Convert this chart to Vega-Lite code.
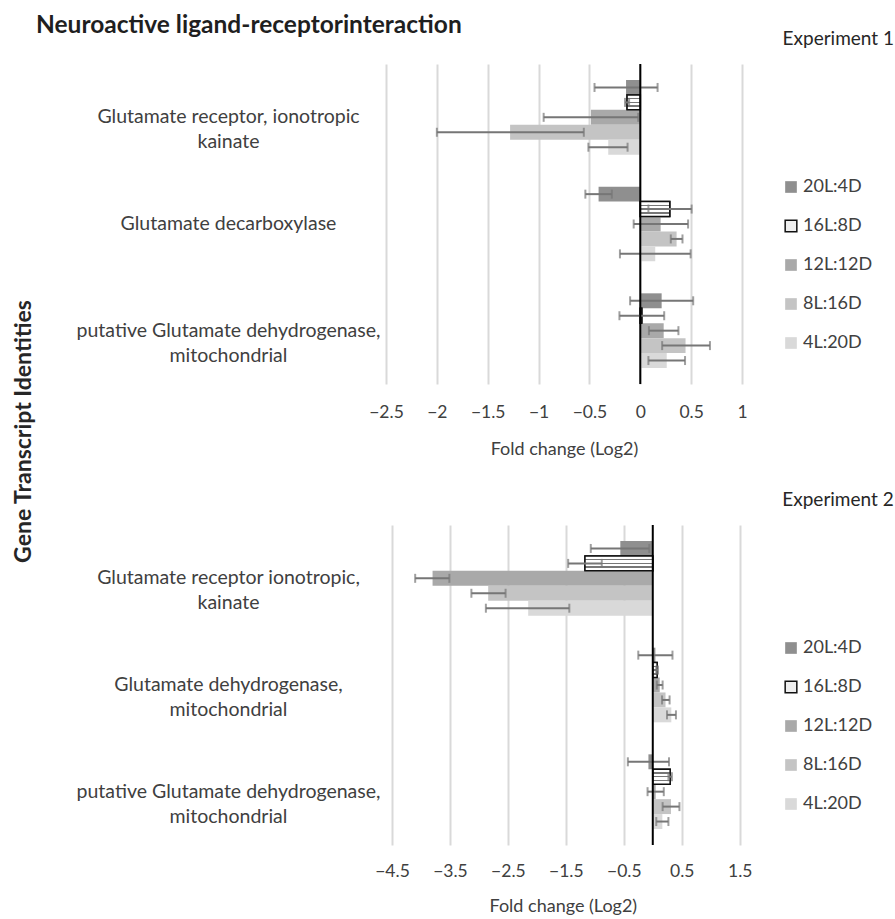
{
  "$schema": "https://vega.github.io/schema/vega-lite/v6.json",
  "background": "white",
  "padding": {"left": 11, "top": 12, "right": 0, "bottom": 0},
  "bounds": "flush",
  "spacing": 141,
  "config": {
    "font": "Lato",
    "view": {"stroke": null},
    "axis": {"labelColor": "#404040", "titleColor": "#404040"},
    "legend": {"padding": 0}
  },
  "title": {"text": "Neuroactive ligand-receptorinteraction", "anchor": "start", "fontSize": 24.5, "fontWeight": "bold", "color": "#1f1f1f", "dx": 24, "offset": -8},
  "resolve": {
    "scale": {"x": "independent", "y": "independent", "yOffset": "independent", "color": "independent", "stroke": "independent"},
    "legend": {"color": "independent", "stroke": "independent"}
  },
  "datasets": {
    "exp1": [
      {"gene": "Glutamate receptor, ionotropic|kainate", "series": "20L:4D", "value": -0.14, "lo": -0.45, "hi": 0.17},
      {"gene": "Glutamate receptor, ionotropic|kainate", "series": "16L:8D", "value": -0.13, "lo": -0.15, "hi": -0.11},
      {"gene": "Glutamate receptor, ionotropic|kainate", "series": "12L:12D", "value": -0.485, "lo": -0.95, "hi": -0.02},
      {"gene": "Glutamate receptor, ionotropic|kainate", "series": "8L:16D", "value": -1.28, "lo": -2.0, "hi": -0.555},
      {"gene": "Glutamate receptor, ionotropic|kainate", "series": "4L:20D", "value": -0.315, "lo": -0.51, "hi": -0.125},
      {"gene": "Glutamate decarboxylase", "series": "20L:4D", "value": -0.41, "lo": -0.54, "hi": -0.28},
      {"gene": "Glutamate decarboxylase", "series": "16L:8D", "value": 0.29, "lo": 0.08, "hi": 0.505},
      {"gene": "Glutamate decarboxylase", "series": "12L:12D", "value": 0.2, "lo": -0.065, "hi": 0.47},
      {"gene": "Glutamate decarboxylase", "series": "8L:16D", "value": 0.357, "lo": 0.3, "hi": 0.415},
      {"gene": "Glutamate decarboxylase", "series": "4L:20D", "value": 0.147, "lo": -0.2, "hi": 0.495},
      {"gene": "putative Glutamate dehydrogenase,|mitochondrial", "series": "20L:4D", "value": 0.21, "lo": -0.1, "hi": 0.52},
      {"gene": "putative Glutamate dehydrogenase,|mitochondrial", "series": "16L:8D", "value": 0.015, "lo": -0.205, "hi": 0.235},
      {"gene": "putative Glutamate dehydrogenase,|mitochondrial", "series": "12L:12D", "value": 0.23, "lo": 0.085, "hi": 0.375},
      {"gene": "putative Glutamate dehydrogenase,|mitochondrial", "series": "8L:16D", "value": 0.445, "lo": 0.215, "hi": 0.685},
      {"gene": "putative Glutamate dehydrogenase,|mitochondrial", "series": "4L:20D", "value": 0.26, "lo": 0.08, "hi": 0.44}
    ],
    "exp2": [
      {"gene": "Glutamate receptor ionotropic,|kainate", "series": "20L:4D", "value": -0.56, "lo": -1.07, "hi": -0.06},
      {"gene": "Glutamate receptor ionotropic,|kainate", "series": "16L:8D", "value": -1.17, "lo": -1.46, "hi": -0.88},
      {"gene": "Glutamate receptor ionotropic,|kainate", "series": "12L:12D", "value": -3.8, "lo": -4.1, "hi": -3.51},
      {"gene": "Glutamate receptor ionotropic,|kainate", "series": "8L:16D", "value": -2.84, "lo": -3.13, "hi": -2.54},
      {"gene": "Glutamate receptor ionotropic,|kainate", "series": "4L:20D", "value": -2.15, "lo": -2.88, "hi": -1.44},
      {"gene": "Glutamate dehydrogenase,|mitochondrial", "series": "20L:4D", "value": 0.045, "lo": -0.25, "hi": 0.34},
      {"gene": "Glutamate dehydrogenase,|mitochondrial", "series": "16L:8D", "value": 0.075, "lo": 0.06, "hi": 0.09},
      {"gene": "Glutamate dehydrogenase,|mitochondrial", "series": "12L:12D", "value": 0.12, "lo": 0.07, "hi": 0.17},
      {"gene": "Glutamate dehydrogenase,|mitochondrial", "series": "8L:16D", "value": 0.22, "lo": 0.16, "hi": 0.29},
      {"gene": "Glutamate dehydrogenase,|mitochondrial", "series": "4L:20D", "value": 0.32, "lo": 0.245, "hi": 0.4},
      {"gene": "putative Glutamate dehydrogenase,|mitochondrial", "series": "20L:4D", "value": -0.075, "lo": -0.43, "hi": 0.28},
      {"gene": "putative Glutamate dehydrogenase,|mitochondrial", "series": "16L:8D", "value": 0.3, "lo": 0.27, "hi": 0.33},
      {"gene": "putative Glutamate dehydrogenase,|mitochondrial", "series": "12L:12D", "value": 0.05, "lo": -0.09, "hi": 0.19},
      {"gene": "putative Glutamate dehydrogenase,|mitochondrial", "series": "8L:16D", "value": 0.315, "lo": 0.17, "hi": 0.46},
      {"gene": "putative Glutamate dehydrogenase,|mitochondrial", "series": "4L:20D", "value": 0.165, "lo": 0.06, "hi": 0.27}
    ],
    "zero": [{"zero": 0}]
  },
  "vconcat": [
    {
      "width": 356,
      "height": 320,
      "title": {"text": "Experiment 1", "anchor": "end", "frame": "group", "fontSize": 19, "fontWeight": "normal", "color": "#262626", "dx": 152, "offset": 14},
      "data": {"name": "exp1"},
      "layer": [
        {
          "mark": {"type": "bar", "strokeWidth": 1.5},
          "encoding": {
            "y": {"field": "gene", "type": "nominal", "sort": ["Glutamate receptor, ionotropic|kainate", "Glutamate decarboxylase", "putative Glutamate dehydrogenase,|mitochondrial"],
              "scale": {"paddingInner": 0.3, "paddingOuter": 0.15},
              "axis": {"title": "Gene Transcript Identities", "titleFontSize": 23, "titleFontWeight": "bold", "titleColor": "#262626", "titleX": -356, "titleY": 367, "titleAngle": -90, "titleBaseline": "alphabetic", "titleAlign": "center",
                "labelExpr": "split(datum.label, '|')", "labelAlign": "center", "labelBaseline": "middle", "labelPadding": 158, "labelLineHeight": 25, "labelFontSize": 19.5, "labelLimit": 400, "ticks": false, "domain": false, "grid": false}},
            "yOffset": {"field": "series", "sort": ["20L:4D", "16L:8D", "12L:12D", "8L:16D", "4L:20D"], "scale": {"paddingInner": 0, "paddingOuter": 0}},
            "x": {"field": "value", "type": "quantitative", "title": "Fold change (Log2)", "scale": {"domain": [-2.5, 1], "nice": false, "zero": false},
              "axis": {"values": [-2.5, -2, -1.5, -1, -0.5, 0, 0.5, 1], "format": "~g", "grid": true, "gridColor": "#d9d9d9", "gridWidth": 2, "domain": false, "ticks": false, "labelFontSize": 17.5, "labelPadding": 19, "titleFontSize": 18, "titleFontWeight": "normal", "titlePadding": 20, "labelFlush": false}},
            "color": {"field": "series", "type": "nominal", "scale": {"domain": ["20L:4D", "16L:8D", "12L:12D", "8L:16D", "4L:20D"], "range": ["#8f8f8f", "#eeeeee", "#a9a9a9", "#c4c4c4", "#d9d9d9"]},
              "legend": {"orient": "none", "legendX": 396, "legendY": 114, "title": null, "symbolType": "square", "symbolSize": 136, "labelFontSize": 18, "labelColor": "#404040", "rowPadding": 21, "labelOffset": 3, "symbolStrokeWidth": 1.5}},
            "stroke": {"field": "series", "type": "nominal", "scale": {"domain": ["20L:4D", "16L:8D", "12L:12D", "8L:16D", "4L:20D"], "range": ["transparent", "#111111", "transparent", "transparent", "transparent"]},
              "legend": {"orient": "none", "legendX": 396, "legendY": 114, "title": null, "symbolType": "square", "symbolSize": 136, "labelFontSize": 18, "labelColor": "#404040", "rowPadding": 21, "labelOffset": 3, "symbolStrokeWidth": 1.5}}
          }
        },
        {
          "transform": [{"filter": "datum.series === '16L:8D'"}],
          "mark": {"type": "bar", "strokeWidth": 1.5, "stroke": "#111111",
            "fill": {"gradient": "linear", "x1": 0, "y1": 0, "x2": 0, "y2": 1, "stops": [
              {"offset": 0, "color": "#ffffff"}, {"offset": 0.2, "color": "#ffffff"}, {"offset": 0.2, "color": "#777777"}, {"offset": 0.3, "color": "#777777"},
              {"offset": 0.3, "color": "#ffffff"}, {"offset": 0.45, "color": "#ffffff"}, {"offset": 0.45, "color": "#777777"}, {"offset": 0.55, "color": "#777777"},
              {"offset": 0.55, "color": "#ffffff"}, {"offset": 0.7, "color": "#ffffff"}, {"offset": 0.7, "color": "#777777"}, {"offset": 0.8, "color": "#777777"},
              {"offset": 0.8, "color": "#ffffff"}, {"offset": 1, "color": "#ffffff"}]}},
          "encoding": {
            "y": {"field": "gene", "type": "nominal", "sort": ["Glutamate receptor, ionotropic|kainate", "Glutamate decarboxylase", "putative Glutamate dehydrogenase,|mitochondrial"]},
            "yOffset": {"field": "series", "sort": ["20L:4D", "16L:8D", "12L:12D", "8L:16D", "4L:20D"]},
            "x": {"field": "value", "type": "quantitative", "title": "Fold change (Log2)"}
          }
        },
        {
          "mark": {"type": "rule", "color": "#767676", "strokeWidth": 2},
          "encoding": {
            "y": {"field": "gene", "type": "nominal", "sort": ["Glutamate receptor, ionotropic|kainate", "Glutamate decarboxylase", "putative Glutamate dehydrogenase,|mitochondrial"]},
            "yOffset": {"field": "series", "sort": ["20L:4D", "16L:8D", "12L:12D", "8L:16D", "4L:20D"]},
            "x": {"field": "lo", "type": "quantitative", "title": "Fold change (Log2)"},
            "x2": {"field": "hi"}
          }
        },
        {
          "mark": {"type": "tick", "orient": "vertical", "color": "#767676", "size": 9, "thickness": 2},
          "encoding": {
            "y": {"field": "gene", "type": "nominal", "sort": ["Glutamate receptor, ionotropic|kainate", "Glutamate decarboxylase", "putative Glutamate dehydrogenase,|mitochondrial"]},
            "yOffset": {"field": "series", "sort": ["20L:4D", "16L:8D", "12L:12D", "8L:16D", "4L:20D"]},
            "x": {"field": "lo", "type": "quantitative", "title": "Fold change (Log2)"}
          }
        },
        {
          "mark": {"type": "tick", "orient": "vertical", "color": "#767676", "size": 9, "thickness": 2},
          "encoding": {
            "y": {"field": "gene", "type": "nominal", "sort": ["Glutamate receptor, ionotropic|kainate", "Glutamate decarboxylase", "putative Glutamate dehydrogenase,|mitochondrial"]},
            "yOffset": {"field": "series", "sort": ["20L:4D", "16L:8D", "12L:12D", "8L:16D", "4L:20D"]},
            "x": {"field": "hi", "type": "quantitative", "title": "Fold change (Log2)"}
          }
        },
        {
          "data": {"name": "zero"},
          "mark": {"type": "rule", "color": "#000000", "strokeWidth": 2},
          "encoding": {"x": {"field": "zero", "type": "quantitative", "title": "Fold change (Log2)"}}
        }
      ]
    },
    {
      "width": 353.7,
      "height": 320,
      "title": {"text": "Experiment 2", "anchor": "end", "frame": "group", "fontSize": 19, "fontWeight": "normal", "color": "#262626", "dx": 154, "offset": 14},
      "data": {"name": "exp2"},
      "layer": [
        {
          "mark": {"type": "bar", "strokeWidth": 1.5},
          "encoding": {
            "y": {"field": "gene", "type": "nominal", "sort": ["Glutamate receptor ionotropic,|kainate", "Glutamate dehydrogenase,|mitochondrial", "putative Glutamate dehydrogenase,|mitochondrial"],
              "scale": {"paddingInner": 0.3, "paddingOuter": 0.15},
              "axis": {"title": null, "labelExpr": "split(datum.label, '|')", "labelAlign": "center", "labelBaseline": "middle", "labelPadding": 158, "labelLineHeight": 25, "labelFontSize": 19.5, "labelLimit": 400, "ticks": false, "domain": false, "grid": false}},
            "yOffset": {"field": "series", "sort": ["20L:4D", "16L:8D", "12L:12D", "8L:16D", "4L:20D"], "scale": {"paddingInner": 0, "paddingOuter": 0}},
            "x": {"field": "value", "type": "quantitative", "title": "Fold change (Log2)", "scale": {"domain": [-4.6035, 1.5], "nice": false, "zero": false},
              "axis": {"values": [-4.5, -3.5, -2.5, -1.5, -0.5, 0.5, 1.5], "format": "~g", "grid": true, "gridColor": "#d9d9d9", "gridWidth": 2, "domain": false, "ticks": false, "labelFontSize": 17.5, "labelPadding": 17, "titleFontSize": 18, "titleFontWeight": "normal", "titlePadding": 18, "labelFlush": false}},
            "color": {"field": "series", "type": "nominal", "scale": {"domain": ["20L:4D", "16L:8D", "12L:12D", "8L:16D", "4L:20D"], "range": ["#8f8f8f", "#eeeeee", "#a9a9a9", "#c4c4c4", "#d9d9d9"]},
              "legend": {"orient": "none", "legendX": 396, "legendY": 114, "title": null, "symbolType": "square", "symbolSize": 136, "labelFontSize": 18, "labelColor": "#404040", "rowPadding": 21, "labelOffset": 3, "symbolStrokeWidth": 1.5}},
            "stroke": {"field": "series", "type": "nominal", "scale": {"domain": ["20L:4D", "16L:8D", "12L:12D", "8L:16D", "4L:20D"], "range": ["transparent", "#111111", "transparent", "transparent", "transparent"]},
              "legend": {"orient": "none", "legendX": 396, "legendY": 114, "title": null, "symbolType": "square", "symbolSize": 136, "labelFontSize": 18, "labelColor": "#404040", "rowPadding": 21, "labelOffset": 3, "symbolStrokeWidth": 1.5}}
          }
        },
        {
          "transform": [{"filter": "datum.series === '16L:8D'"}],
          "mark": {"type": "bar", "strokeWidth": 1.5, "stroke": "#111111",
            "fill": {"gradient": "linear", "x1": 0, "y1": 0, "x2": 0, "y2": 1, "stops": [
              {"offset": 0, "color": "#ffffff"}, {"offset": 0.2, "color": "#ffffff"}, {"offset": 0.2, "color": "#777777"}, {"offset": 0.3, "color": "#777777"},
              {"offset": 0.3, "color": "#ffffff"}, {"offset": 0.45, "color": "#ffffff"}, {"offset": 0.45, "color": "#777777"}, {"offset": 0.55, "color": "#777777"},
              {"offset": 0.55, "color": "#ffffff"}, {"offset": 0.7, "color": "#ffffff"}, {"offset": 0.7, "color": "#777777"}, {"offset": 0.8, "color": "#777777"},
              {"offset": 0.8, "color": "#ffffff"}, {"offset": 1, "color": "#ffffff"}]}},
          "encoding": {
            "y": {"field": "gene", "type": "nominal", "sort": ["Glutamate receptor ionotropic,|kainate", "Glutamate dehydrogenase,|mitochondrial", "putative Glutamate dehydrogenase,|mitochondrial"]},
            "yOffset": {"field": "series", "sort": ["20L:4D", "16L:8D", "12L:12D", "8L:16D", "4L:20D"]},
            "x": {"field": "value", "type": "quantitative", "title": "Fold change (Log2)"}
          }
        },
        {
          "mark": {"type": "rule", "color": "#767676", "strokeWidth": 2},
          "encoding": {
            "y": {"field": "gene", "type": "nominal", "sort": ["Glutamate receptor ionotropic,|kainate", "Glutamate dehydrogenase,|mitochondrial", "putative Glutamate dehydrogenase,|mitochondrial"]},
            "yOffset": {"field": "series", "sort": ["20L:4D", "16L:8D", "12L:12D", "8L:16D", "4L:20D"]},
            "x": {"field": "lo", "type": "quantitative", "title": "Fold change (Log2)"},
            "x2": {"field": "hi"}
          }
        },
        {
          "mark": {"type": "tick", "orient": "vertical", "color": "#767676", "size": 9, "thickness": 2},
          "encoding": {
            "y": {"field": "gene", "type": "nominal", "sort": ["Glutamate receptor ionotropic,|kainate", "Glutamate dehydrogenase,|mitochondrial", "putative Glutamate dehydrogenase,|mitochondrial"]},
            "yOffset": {"field": "series", "sort": ["20L:4D", "16L:8D", "12L:12D", "8L:16D", "4L:20D"]},
            "x": {"field": "lo", "type": "quantitative", "title": "Fold change (Log2)"}
          }
        },
        {
          "mark": {"type": "tick", "orient": "vertical", "color": "#767676", "size": 9, "thickness": 2},
          "encoding": {
            "y": {"field": "gene", "type": "nominal", "sort": ["Glutamate receptor ionotropic,|kainate", "Glutamate dehydrogenase,|mitochondrial", "putative Glutamate dehydrogenase,|mitochondrial"]},
            "yOffset": {"field": "series", "sort": ["20L:4D", "16L:8D", "12L:12D", "8L:16D", "4L:20D"]},
            "x": {"field": "hi", "type": "quantitative", "title": "Fold change (Log2)"}
          }
        },
        {
          "data": {"name": "zero"},
          "mark": {"type": "rule", "color": "#000000", "strokeWidth": 2},
          "encoding": {"x": {"field": "zero", "type": "quantitative", "title": "Fold change (Log2)"}}
        }
      ]
    }
  ]
}
